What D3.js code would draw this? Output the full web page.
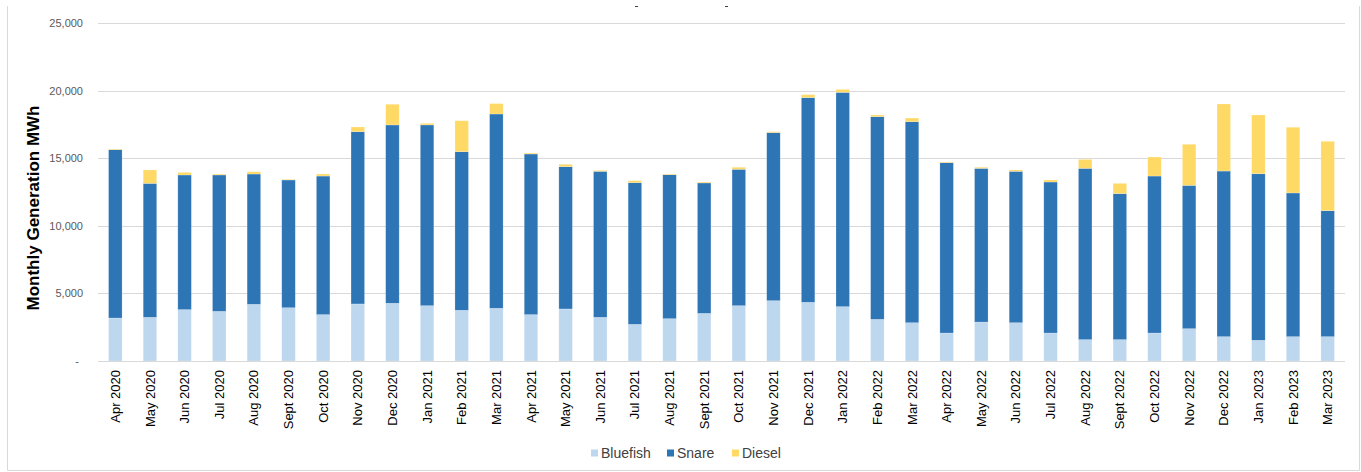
<!DOCTYPE html>
<html>
<head>
<meta charset="utf-8">
<script src="https://cdn.jsdelivr.net/npm/d3@7"></script>
<style>
  body { margin: 0; background: #fff; }
  text { font-family: "Liberation Sans", Arial, sans-serif; }
</style>
</head>
<body>
<div id="chart"></div>
<script>
// Categories.
var months = ["Apr 2020", "May 2020", "Jun 2020", "Jul 2020", "Aug 2020", "Sept 2020",
    "Oct 2020", "Nov 2020", "Dec 2020", "Jan 2021", "Feb 2021", "Mar 2021",
    "Apr 2021", "May 2021", "Jun 2021", "Jul 2021", "Aug 2021", "Sept 2021",
    "Oct 2021", "Nov 2021", "Dec 2021", "Jan 2022", "Feb 2022", "Mar 2022",
    "Apr 2022", "May 2022", "Jun 2022", "Jul 2022", "Aug 2022", "Sept 2022",
    "Oct 2022", "Nov 2022", "Dec 2022", "Jan 2023", "Feb 2023", "Mar 2023"];

// Series values (MWh).
var bluefish = [3180, 3230, 3800, 3670, 4190, 3940, 3430, 4220, 4270, 4090, 3750, 3900,
    3430, 3850, 3230, 2710, 3130, 3520, 4090, 4460, 4340, 4020, 3080, 2830,
    2070, 2880, 2830, 2070, 1580, 1580, 2070, 2390, 1800, 1530, 1800, 1800];
var snare = [12450, 9910, 9960, 10090, 9640, 9450, 10250, 12740, 13190, 13370, 11730, 14370,
    11880, 10520, 10800, 10480, 10650, 9650, 10090, 12430, 15140, 15850, 14990, 14870,
    12600, 11370, 11200, 11170, 12670, 10800, 11610, 10600, 12250, 12320, 10630, 9320];
var diesel = [50, 990, 190, 70, 170, 50, 150, 350, 1530, 120, 2290, 770,
    70, 180, 70, 150, 50, 70, 150, 70, 220, 220, 130, 270,
    50, 80, 100, 150, 660, 760, 1410, 3040, 4960, 4350, 4860, 5130];

// Tick labels.
var yTicks = [0, 5000, 10000, 15000, 20000, 25000];
var seriesNames = ["Bluefish", "Snare", "Diesel"];
var seriesColors = ["#bdd7ee", "#2e75b6", "#ffd966"];

// Dimensions.
var W = 1361, H = 472;
var plot = {left: 98, right: 1345, top: 23, bottom: 361};

var svg = d3.select("#chart")
    .append("svg")
    .attr("width", W)
    .attr("height", H);

// Outer chart border (top is cut off).
svg.append("path")
    .attr("d", "M7.5,6 V470.5 H1359.5 V6")
    .attr("fill", "none")
    .attr("stroke", "#d9d9d9")
    .attr("stroke-width", 1);

// Fragments of the cropped title.
svg.append("path")
    .attr("d", "M635,6.5 H638 M725,6.5 H728")
    .attr("stroke", "#404040")
    .attr("stroke-width", 1.2);

// Scales.
var x = d3.scaleBand()
    .domain(months)
    .range([plot.left, plot.right])
    .paddingInner(0.61)
    .paddingOuter(0.305);

var y = d3.scaleLinear()
    .domain([0, 25000])
    .range([plot.bottom, plot.top]);

// Gridlines.
svg.append("g")
    .selectAll("line")
    .data(yTicks.filter(function(d) { return d > 0; }))
    .join("line")
    .attr("x1", plot.left)
    .attr("x2", plot.right)
    .attr("y1", function(d) { return Math.round(y(d)) + 0.5; })
    .attr("y2", function(d) { return Math.round(y(d)) + 0.5; })
    .attr("stroke", "#d9d9d9")
    .attr("stroke-width", 1);

// Y axis labels.
var yAxis = svg.append("g")
    .attr("transform", "translate(83,0)")
    .call(d3.axisLeft(y)
        .tickValues(yTicks)
        .tickSize(0)
        .tickPadding(0)
        .tickFormat(function(d) { return d === 0 ? "-" : d3.format(",")(d); }));
yAxis.select(".domain").remove();
yAxis.selectAll("text")
    .attr("fill", "#595959")
    .style("font-size", "11px")
    .attr("x", function(d) { return d === 0 ? -4 : 0; });

// Stacked data.
var table = months.map(function(m, i) {
    return {month: m, Bluefish: bluefish[i], Snare: snare[i], Diesel: diesel[i]};
});
var stacked = d3.stack().keys(seriesNames)(table);

svg.append("g")
    .selectAll("g")
    .data(stacked)
    .join("g")
    .attr("fill", function(d, i) { return seriesColors[i]; })
    .selectAll("rect")
    .data(function(d) { return d; })
    .join("rect")
    .attr("x", function(d) { return x(d.data.month); })
    .attr("width", x.bandwidth())
    .attr("y", function(d) { return y(d[1]); })
    .attr("height", function(d) { return y(d[0]) - y(d[1]); })
    .attr("stroke", "#ffffff")
    .attr("stroke-opacity", 0.35)
    .attr("stroke-width", 0.6);

// Baseline.
svg.append("line")
    .attr("x1", plot.left)
    .attr("x2", plot.right)
    .attr("y1", plot.bottom + 0.5)
    .attr("y2", plot.bottom + 0.5)
    .attr("stroke", "#d9d9d9")
    .attr("stroke-width", 1.2);

// X axis labels, rotated.
var xAxis = svg.append("g")
    .attr("transform", "translate(0," + plot.bottom + ")")
    .call(d3.axisBottom(x).tickSize(0).tickPadding(0));
xAxis.select(".domain").remove();
xAxis.selectAll("text")
    .attr("fill", "#000")
    .style("font-size", "13px")
    .attr("text-anchor", "end")
    .attr("dy", "0.35em")
    .attr("transform", "translate(0,9) rotate(-90)")
    .attr("y", 0)
    .attr("x", 0);

// Y axis title.
svg.append("text")
    .attr("transform", "translate(39,208) rotate(-90)")
    .attr("text-anchor", "middle")
    .attr("textLength", 205)
    .attr("lengthAdjust", "spacingAndGlyphs")
    .style("font-size", "16px")
    .style("font-weight", "bold")
    .attr("fill", "#000")
    .text("Monthly Generation MWh");

// Legend.
var legendX = [591, 667, 732];
var legend = svg.append("g")
    .selectAll("g")
    .data(seriesNames)
    .join("g")
    .attr("transform", function(d, i) { return "translate(" + legendX[i] + ",453)"; });

legend.append("rect")
    .attr("x", 0)
    .attr("y", -3.5)
    .attr("width", 7)
    .attr("height", 7)
    .attr("fill", function(d, i) { return seriesColors[i]; });

legend.append("text")
    .attr("x", 10)
    .attr("dy", "0.35em")
    .style("font-size", "14px")
    .attr("fill", "#404040")
    .text(function(d) { return d; });
</script>
</body>
</html>
